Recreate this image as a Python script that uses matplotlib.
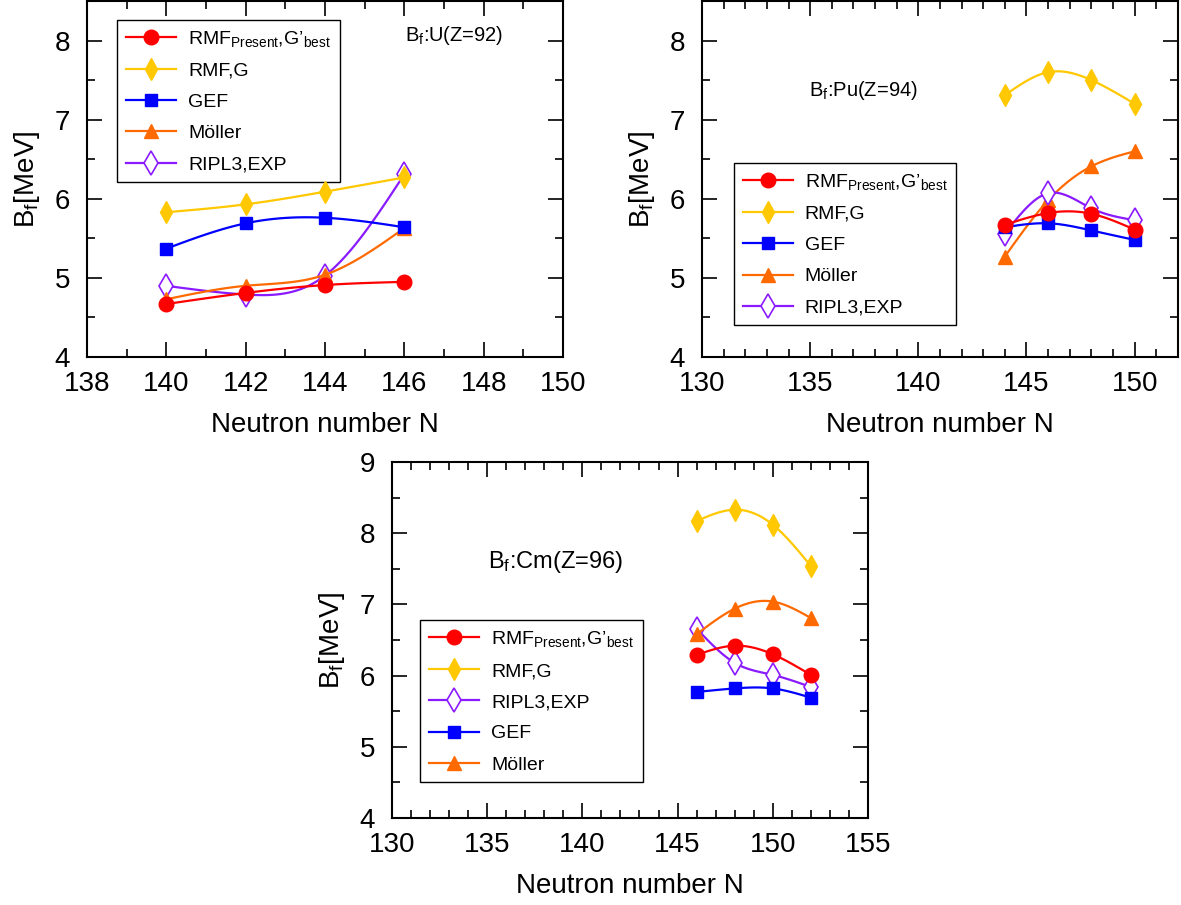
import numpy as np
import matplotlib
matplotlib.use("Agg")
import matplotlib.pyplot as plt
from matplotlib.lines import Line2D
from matplotlib.ticker import MultipleLocator

plt.rcParams['font.family'] = ['Liberation Sans', 'DejaVu Sans']
plt.rcParams['mathtext.fontset'] = 'custom'
plt.rcParams['mathtext.rm'] = 'Liberation Sans'
plt.rcParams['mathtext.it'] = 'Liberation Sans'

# U (Z=92)
n_u = [140, 142, 144, 146]
u_rmf_present = [4.67, 4.81, 4.91, 4.95]
u_rmf_g = [5.83, 5.93, 6.09, 6.27]
u_gef = [5.37, 5.69, 5.76, 5.64]
u_moller = [4.73, 4.90, 5.04, 5.63]
u_ripl3 = [4.90, 4.79, 5.03, 6.31]

# Pu (Z=94)
n_pu = [144, 146, 148, 150]
pu_rmf_present = [5.67, 5.82, 5.81, 5.61]
pu_rmf_g = [7.31, 7.60, 7.50, 7.20]
pu_gef = [5.64, 5.69, 5.60, 5.48]
pu_moller = [5.27, 5.98, 6.41, 6.60]
pu_ripl3 = [5.56, 6.07, 5.88, 5.73]

# Cm (Z=96)
n_cm = [146, 148, 150, 152]
cm_rmf_present = [6.29, 6.42, 6.30, 6.01]
cm_rmf_g = [8.17, 8.33, 8.12, 7.54]
cm_gef = [5.77, 5.82, 5.82, 5.69]
cm_moller = [6.58, 6.94, 7.04, 6.81]
cm_ripl3 = [6.66, 6.18, 6.01, 5.84]

lab_present = "RMF$_{\\mathrm{Present}}$,G\u2019$_{\\mathrm{best}}$"
lab_g = "RMF,G"
lab_gef = "GEF"
lab_moller = "M\u00f6ller"
lab_ripl = "RIPL3,EXP"

RED = '#ff0000'
YEL = '#ffc800'
BLUE = '#0000ff'
ORA = '#ff6a00'
PUR = '#8a1aff'

styles = {
    'present': dict(color=RED, marker='o', ms=10.5, mfc=RED, mec=RED),
    'g': dict(color=YEL, marker='d', ms=11, mfc=YEL, mec=YEL),
    'gef': dict(color=BLUE, marker='s', ms=9, mfc=BLUE, mec=BLUE),
    'moller': dict(color=ORA, marker='^', ms=10.5, mfc=ORA, mec=ORA),
    'ripl': dict(color=PUR, marker='d', ms=12, mfc='white', mec=PUR, mew=1.2),
}


def smooth(x, y, n=120):
    # natural cubic spline, only for drawing the connecting curve
    x = np.asarray(x, float)
    y = np.asarray(y, float)
    k = len(x)
    h = np.diff(x)
    A = np.zeros((k, k))
    b = np.zeros(k)
    A[0, 0] = A[-1, -1] = 1
    for i in range(1, k - 1):
        A[i, i - 1] = h[i - 1]
        A[i, i] = 2 * (h[i - 1] + h[i])
        A[i, i + 1] = h[i]
        b[i] = 3 * ((y[i + 1] - y[i]) / h[i] - (y[i] - y[i - 1]) / h[i - 1])
    c = np.linalg.solve(A, b)
    xs = np.linspace(x[0], x[-1], n)
    idx = np.clip(np.searchsorted(x, xs) - 1, 0, k - 2)
    dx = xs - x[idx]
    bb = (y[1:] - y[:-1]) / h - h * (2 * c[:-1] + c[1:]) / 3
    d = (c[1:] - c[:-1]) / (3 * h)
    ys = y[idx] + bb[idx] * dx + c[idx] * dx ** 2 + d[idx] * dx ** 3
    return xs, ys


def draw(ax, x, y, key, z):
    st = styles[key]
    xs, ys = smooth(x, y)
    ax.plot(xs, ys, color=st['color'], lw=1.6, zorder=z)
    ax.plot(x, y, ls='none', marker=st['marker'], ms=st['ms'], mfc=st['mfc'],
            mec=st['mec'], mew=st.get('mew', 1.0), zorder=z + 0.5)


def handle(key):
    st = styles[key]
    return Line2D([], [], color=st['color'], lw=1.6, marker=st['marker'],
                  ms=st['ms'], mfc=st['mfc'], mec=st['mec'], mew=st.get('mew', 1.0))


def style_axes(ax, xlim, ylim, xmaj, ymaj):
    ax.set_xlim(*xlim)
    ax.set_ylim(*ylim)
    ax.xaxis.set_major_locator(MultipleLocator(xmaj))
    ax.xaxis.set_minor_locator(MultipleLocator(1))
    ax.yaxis.set_major_locator(MultipleLocator(ymaj))
    ax.yaxis.set_minor_locator(MultipleLocator(0.5))
    ax.tick_params(which='both', direction='in', top=True, right=True, width=1.2)
    ax.tick_params(which='major', length=11, labelsize=20)
    ax.tick_params(which='minor', length=6)
    ax.tick_params(axis='x', which='major', pad=10)
    ax.tick_params(axis='y', which='major', pad=12)
    for s in ax.spines.values():
        s.set_linewidth(1.5)
    ax.set_xlabel("Neutron number N", fontsize=20, labelpad=11)
    ax.set_ylabel("B$_\\mathrm{f}$[MeV]", fontsize=20, labelpad=9)


def add_legend(ax, keys, labels, anchor):
    leg = ax.legend([handle(k) for k in keys], labels,
                    loc='upper left', bbox_to_anchor=anchor, borderaxespad=0,
                    fontsize=14, fancybox=False, edgecolor='black', framealpha=1,
                    handlelength=2.6, handletextpad=0.6, labelspacing=0.7,
                    borderpad=0.45)
    leg.get_frame().set_linewidth(1.0)
    return leg


fig = plt.figure(figsize=(11.81, 9.05), dpi=100)

# top left: U
ax1 = fig.add_axes([0.0737, 0.6055, 0.403, 0.3934])
draw(ax1, n_u, u_ripl3, 'ripl', 2)
draw(ax1, n_u, u_moller, 'moller', 3)
draw(ax1, n_u, u_gef, 'gef', 4)
draw(ax1, n_u, u_rmf_g, 'g', 5)
draw(ax1, n_u, u_rmf_present, 'present', 6)
style_axes(ax1, (138, 150), (4, 8.5), 2, 1)
ax1.text(0.668, 0.904, "B$_\\mathrm{f}$:U(Z=92)", transform=ax1.transAxes,
         fontsize=14.5, ha='left', va='center')
add_legend(ax1, ['present', 'g', 'gef', 'moller', 'ripl'],
           [lab_present, lab_g, lab_gef, lab_moller, lab_ripl], (0.063, 0.947))

# top right: Pu
ax2 = fig.add_axes([0.5944, 0.6055, 0.403, 0.3934])
draw(ax2, n_pu, pu_moller, 'moller', 2)
draw(ax2, n_pu, pu_ripl3, 'ripl', 3)
draw(ax2, n_pu, pu_gef, 'gef', 4)
draw(ax2, n_pu, pu_rmf_present, 'present', 5)
draw(ax2, n_pu, pu_rmf_g, 'g', 6)
style_axes(ax2, (130, 152), (4, 8.5), 5, 1)
ax2.text(0.225, 0.75, "B$_\\mathrm{f}$:Pu(Z=94)", transform=ax2.transAxes,
         fontsize=14.5, ha='left', va='center')
add_legend(ax2, ['present', 'g', 'gef', 'moller', 'ripl'],
           [lab_present, lab_g, lab_gef, lab_moller, lab_ripl], (0.067, 0.545))

# bottom: Cm
ax3 = fig.add_axes([0.3319, 0.0961, 0.403, 0.3934])
draw(ax3, n_cm, cm_ripl3, 'ripl', 2)
draw(ax3, n_cm, cm_gef, 'gef', 3)
draw(ax3, n_cm, cm_rmf_present, 'present', 4)
draw(ax3, n_cm, cm_moller, 'moller', 5)
draw(ax3, n_cm, cm_rmf_g, 'g', 6)
style_axes(ax3, (130, 155), (4, 9), 5, 1)
ax3.text(0.202, 0.719, "B$_\\mathrm{f}$:Cm(Z=96)", transform=ax3.transAxes,
         fontsize=17, ha='left', va='center')
add_legend(ax3, ['present', 'g', 'ripl', 'gef', 'moller'],
           [lab_present, lab_g, lab_ripl, lab_gef, lab_moller], (0.059, 0.556))

fig.savefig("out.png", dpi=100)
